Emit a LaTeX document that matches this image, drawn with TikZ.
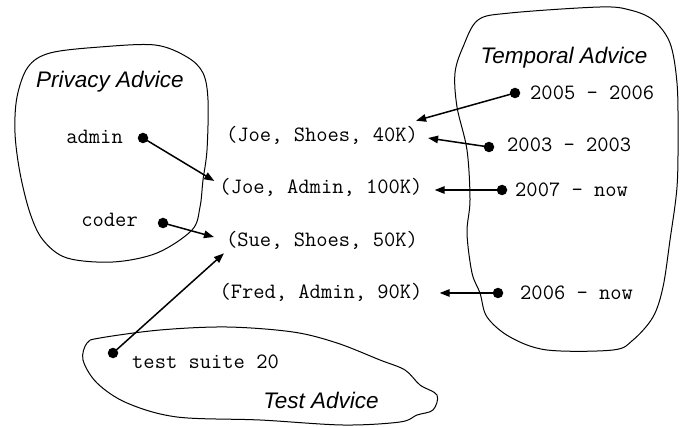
\documentclass[tikz,border=0pt]{standalone}
\usepackage{fontspec}
\setmainfont{Liberation Sans}
\usetikzlibrary{arrows.meta,calc}
\tikzset{
  blob/.style={draw=black,line width=1pt},
  mono/.style={font=\ttfamily\fontsize{21.9}{24}\selectfont,inner sep=0pt},
  tuple/.style={font=\ttfamily\fontsize{21.9}{24}\selectfont,inner sep=6pt},
  title/.style={font=\itshape\fontsize{22.5}{26}\selectfont,inner sep=0pt},
  dotn/.style={circle,fill=black,inner sep=0pt,minimum size=10.5pt},
  arr/.style={line width=1.5pt,-{Triangle[length=10pt,width=7.5pt]}}
}
\begin{document}
\begin{tikzpicture}[x=1pt,y=-1pt]
\useasboundingbox (0,0) rectangle (682,427);
% Privacy blob
\draw[blob] plot[smooth cycle,tension=0.55] coordinates{
 (50,53) (100,47) (155,45) (187,57) (203,73) (208,100) (207,150) (203,180)
 (200,207) (192,230) (157,253) (113,262) (67,258) (43,240) (30,213) (20,173)
 (15,133) (17,97) (28,67)};
% Temporal blob
\draw[blob] plot[smooth cycle,tension=0.55] coordinates{
 (478,20) (510,13) (600,7) (630,10) (653,20) (670,43) (677,83) (678,133)
 (677,187) (670,240) (663,287) (653,317) (633,340) (613,350) (547,350)
 (510,337) (487,317) (480,293) (472,273) (467,233) (470,200) (467,150)
 (457,107) (455,73) (463,47)};
% Test blob
\draw[blob] plot[smooth cycle,tension=0.55] coordinates{
 (100,338) (160,330) (227,327) (293,332) (337,343) (380,360) (405,370)
 (420,385) (437,395) (433,410) (417,415) (400,422) (343,425) (260,420)
 (177,417) (127,403) (97,383) (83,360) (87,343)};

% titles
\node[title] (ptitle) at (110,82) {Privacy Advice};
\node[title] (ttitle) at (564,58) {Temporal Advice};
\node[title] (xtitle) at (321,400) {Test Advice};

% tuples
\node[tuple] (t1) at (322,135) {(Joe, Shoes, 40K)};
\node[tuple] (t2) at (321,187) {(Joe, Admin, 100K)};
\node[tuple] (t3) at (322,240) {(Sue, Shoes, 50K)};
\node[tuple] (t4) at (321,292) {(Fred, Admin, 90K)};

% privacy items
\node[mono,anchor=east] (admin) at (123,137) {admin};
\node[dotn] (dadmin) at (143,138) {};
\node[mono,anchor=east] (coder) at (138,220) {coder};
\node[dotn] (dcoder) at (163,223) {};

% test item
\node[mono,anchor=west] (suite) at (132,362) {test suite 20};
\node[dotn] (dsuite) at (113,353) {};

% temporal items
\node[mono,anchor=west] (y1) at (530,93) {2005 - 2006};
\node[dotn] (dy1) at (515,93) {};
\node[mono,anchor=west] (y2) at (507,145) {2003 - 2003};
\node[dotn] (dy2) at (489,147) {};
\node[mono,anchor=west] (y3) at (515,190) {2007 - now};
\node[dotn] (dy3) at (502,190) {};
\node[mono,anchor=west] (y4) at (520,293) {2006 - now};
\node[dotn] (dy4) at (498,293) {};

% arrows
\draw[arr] (dadmin.center) -- ($(t2.west)+(1,-6)$);
\draw[arr] (dcoder.center) -- ($(t3.west)+(-6,-3)$);
\draw[arr] (dsuite.center) -- ($(t3.south west)+(4,-2)$);
\draw[arr] (dy1.center) -- ($(t1.north east)+(-8,1)$);
\draw[arr] (dy2.center) -- ($(t1.east)+(4,3)$);
\draw[arr] (dy3.center) -- ($(t2.east)+(6,3)$);
\draw[arr] (dy4.center) -- ($(t4.east)+(11,1)$);
\end{tikzpicture}
\end{document}
